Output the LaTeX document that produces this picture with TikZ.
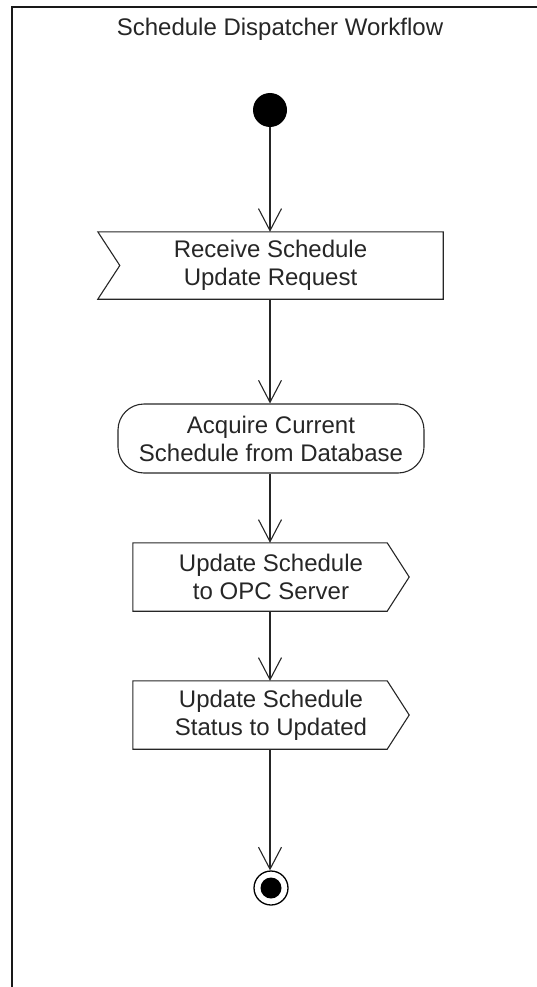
\documentclass[tikz,border=0pt]{standalone}
\usepackage{fontspec}
\setmainfont{Liberation Sans}
\usetikzlibrary{arrows.meta,calc}
\begin{document}
\begin{tikzpicture}[x=1pt,y=-1pt,
  txt/.style={font=\fontsize{24}{28}\selectfont, text=black!85, align=center, inner sep=0pt},
  boxline/.style={draw=black!85, line width=1.1pt},
  flow/.style={draw=black!85, line width=1.1pt, -{Straight Barb[length=22pt,width=23pt,line width=1.1pt]}}
]
\useasboundingbox (0,0) rectangle (536,987);
% frame
\draw[line width=2pt, black!90] (12,990) -- (12,7) -- (540,7);
\node[txt] (title) at (280,29) {Schedule Dispatcher Workflow};

% initial
\node[circle, fill=black, minimum size=34pt, inner sep=0pt] (start) at (270,110) {};

% receive
\node[txt, minimum width=345pt, minimum height=67pt] (recv) at (270.5,265.5) {Receive Schedule\\Update Request};
\draw[boxline] (recv.north west) -- (recv.north east) -- (recv.south east) -- (recv.south west) -- ($(recv.west)+(22,0)$) -- cycle;

% acquire
\node[txt, draw=black!85, line width=1.1pt, rounded corners=26pt, minimum width=306pt, minimum height=69pt] (acq) at (271,438.5) {Acquire Current\\Schedule from Database};

% update opc
\node[txt, minimum width=276pt, minimum height=68pt] (opc) at (271,577) {Update Schedule\\to OPC Server};
\draw[boxline] (opc.north west) -- ($(opc.north east)+(-22,0)$) -- (opc.east) -- ($(opc.south east)+(-22,0)$) -- (opc.south west) -- cycle;

% update status
\node[txt, minimum width=276pt, minimum height=68pt] (stat) at (271,715) {Update Schedule\\Status to Updated};
\draw[boxline] (stat.north west) -- ($(stat.north east)+(-22,0)$) -- (stat.east) -- ($(stat.south east)+(-22,0)$) -- (stat.south west) -- cycle;

% final
\node[circle, draw=black, line width=1.3pt, minimum size=34pt, inner sep=0pt] (final) at (271,888) {};
\fill[black] (final.center) circle (10.5pt);

% connectors
\draw[flow] (start.south) -- (start.south |- recv.north);
\draw[flow] (recv.south -| start.south) -- (acq.north -| start.south);
\draw[flow] (acq.south -| start.south) -- (opc.north -| start.south);
\draw[flow] (opc.south -| start.south) -- (stat.north -| start.south);
\draw[flow] (stat.south -| start.south) -- (final.north -| start.south);
\end{tikzpicture}
\end{document}
